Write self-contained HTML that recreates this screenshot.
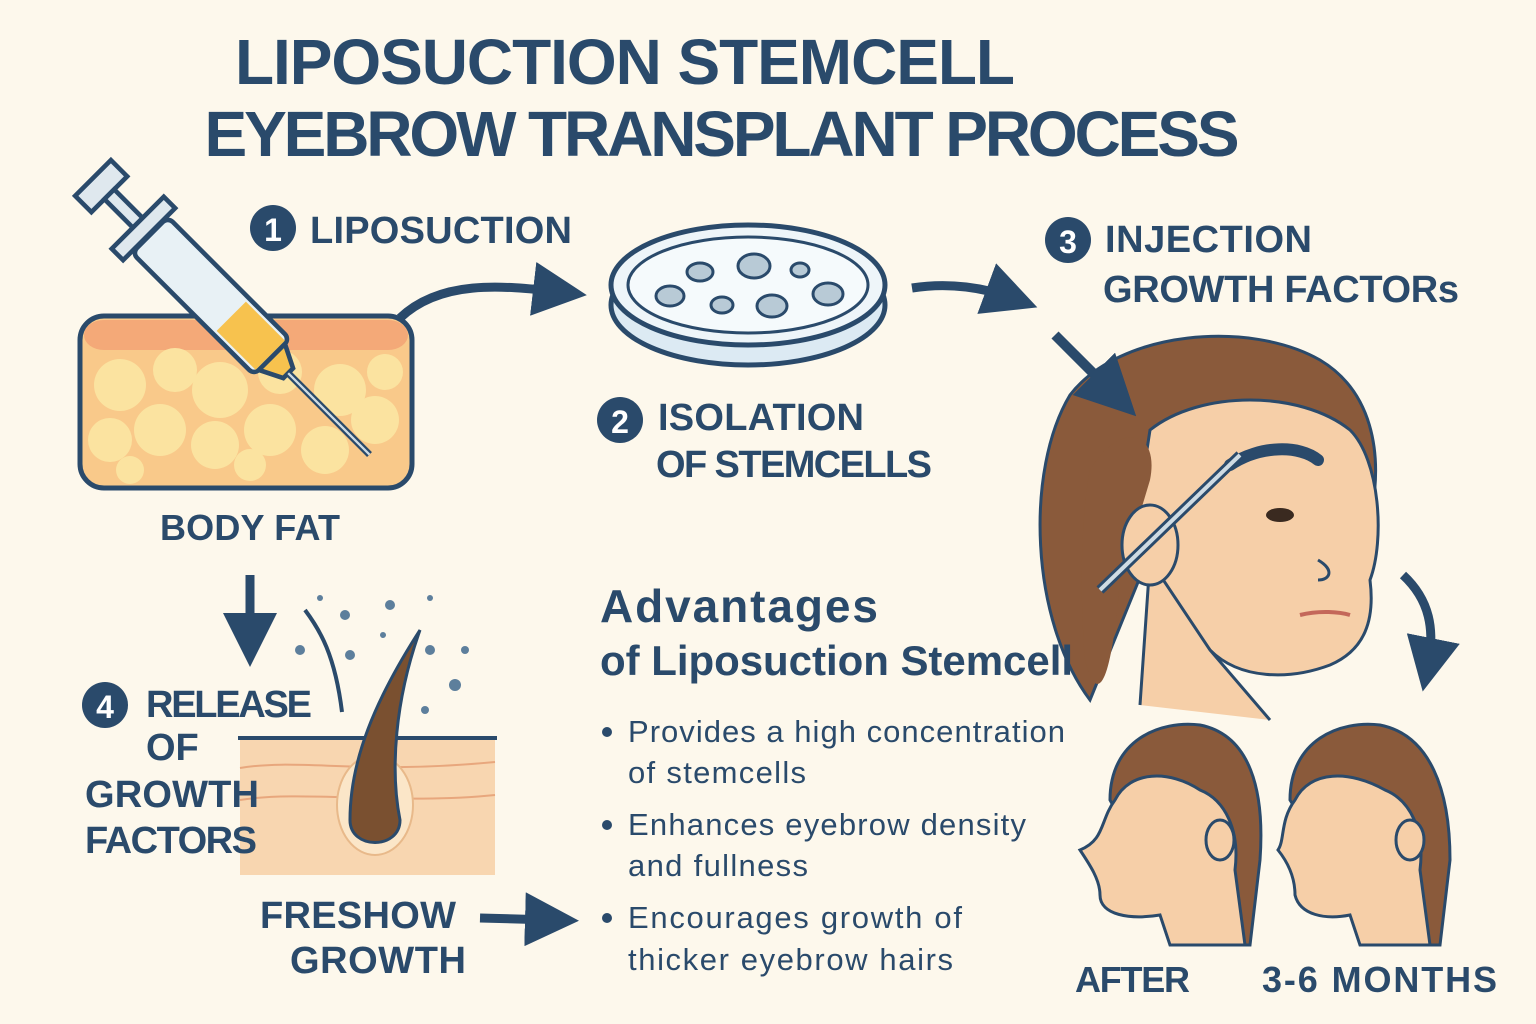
<!DOCTYPE html>
<html><head><meta charset="utf-8"><style>
body{margin:0;background:#fdf8ec}
svg{display:block}
text{font-family:"Liberation Sans",sans-serif;font-weight:bold;fill:#2a4a6b}
text.n{font-weight:normal}
</style></head><body>
<svg width="1536" height="1024" viewBox="0 0 1536 1024" xmlns="http://www.w3.org/2000/svg">
<rect width="1536" height="1024" fill="#fdf8ec"/>
<defs>
<marker id="ah" markerWidth="6" markerHeight="6" refX="3" refY="3" orient="auto" markerUnits="strokeWidth"><path d="M0,0 L6,3 L0,6 Z" fill="#2a4a6b"/></marker>
</defs>
<text x="625" y="84" font-size="64" text-anchor="middle" textLength="780">LIPOSUCTION STEMCELL</text>
<text x="722" y="156" font-size="64" text-anchor="middle" textLength="1035">EYEBROW TRANSPLANT PROCESS</text>

<rect x="80" y="316" width="332" height="172" rx="24" fill="#f9c98a" stroke="#2a4a6b" stroke-width="5"/>
<rect x="84" y="320" width="324" height="30" rx="20" fill="#f4a978"/>
<g fill="#fbe3a0">
<circle cx="120" cy="385" r="26"/><circle cx="175" cy="370" r="22"/><circle cx="220" cy="390" r="28"/><circle cx="280" cy="372" r="22"/><circle cx="340" cy="390" r="26"/><circle cx="385" cy="372" r="18"/>
<circle cx="110" cy="440" r="22"/><circle cx="160" cy="430" r="26"/><circle cx="215" cy="445" r="24"/><circle cx="270" cy="430" r="26"/><circle cx="325" cy="450" r="24"/><circle cx="375" cy="420" r="24"/><circle cx="130" cy="470" r="14"/><circle cx="250" cy="465" r="16"/>
</g>
<g transform="translate(215,300) rotate(45) scale(1.15)">
<rect x="-150" y="-22" width="20" height="44" fill="#dfe8ee" stroke="#2a4a6b" stroke-width="4"/>
<rect x="-130" y="-6" width="50" height="12" fill="#dfe8ee" stroke="#2a4a6b" stroke-width="4"/>
<rect x="-95" y="-32" width="14" height="64" fill="#dfe8ee" stroke="#2a4a6b" stroke-width="4"/>
<rect x="-80" y="-22" width="150" height="44" rx="6" fill="#e8f1f5" stroke="#2a4a6b" stroke-width="4"/>
<rect x="20" y="-18" width="48" height="36" fill="#f7c24e"/>
<path d="M70,-16 L90,-6 L90,6 L70,16Z" fill="#f7c24e" stroke="#2a4a6b" stroke-width="4"/>
<line x1="90" y1="0" x2="190" y2="0" stroke="#2a4a6b" stroke-width="6"/>
<line x1="90" y1="0" x2="190" y2="0" stroke="#cfdbe3" stroke-width="2"/>
</g>
<circle cx="273" cy="228" r="23" fill="#2a4a6b"/><text x="273" y="241" font-size="32" text-anchor="middle" style="fill:#fff">1</text>
<text x="310" y="243" font-size="38" textLength="262">LIPOSUCTION</text>
<text x="160" y="540" font-size="36" textLength="180">BODY FAT</text>

<path d="M400,318 C440,280 500,285 560,292" fill="none" stroke="#2a4a6b" stroke-width="9" marker-end="url(#ah)"/>
<ellipse cx="748" cy="305" rx="137" ry="60" fill="#dceaf3" stroke="#2a4a6b" stroke-width="5"/>
<ellipse cx="748" cy="285" rx="137" ry="60" fill="#eef5f9" stroke="#2a4a6b" stroke-width="5"/>
<ellipse cx="748" cy="285" rx="120" ry="48" fill="#f5fafc" stroke="#2a4a6b" stroke-width="3"/>
<g fill="#b8cad6" stroke="#2a4a6b" stroke-width="3">
<ellipse cx="700" cy="272" rx="13" ry="9"/><ellipse cx="754" cy="266" rx="16" ry="12"/><ellipse cx="800" cy="270" rx="9" ry="7"/><ellipse cx="670" cy="296" rx="14" ry="10"/><ellipse cx="722" cy="305" rx="11" ry="8"/><ellipse cx="772" cy="306" rx="15" ry="11"/><ellipse cx="828" cy="294" rx="15" ry="11"/>
</g>
<circle cx="620" cy="420" r="23" fill="#2a4a6b"/><text x="620" y="433" font-size="32" text-anchor="middle" style="fill:#fff">2</text>
<text x="658" y="430" font-size="38" textLength="206">ISOLATION</text>
<text x="656" y="477" font-size="38" textLength="276">OF STEMCELLS</text>
<path d="M912,288 C950,282 985,288 1012,298" fill="none" stroke="#2a4a6b" stroke-width="9" marker-end="url(#ah)"/>
<circle cx="1068" cy="240" r="23" fill="#2a4a6b"/><text x="1068" y="253" font-size="32" text-anchor="middle" style="fill:#fff">3</text>
<text x="1105" y="252" font-size="38" textLength="207">INJECTION</text>
<text x="1103" y="302" font-size="38" textLength="356">GROWTH FACTORs</text>

<!-- Big head -->
<path d="M1090,700 C1030,620 1025,470 1070,395 C1120,330 1250,320 1320,360 C1370,390 1385,450 1370,520 L1330,540 L1200,430 Z" fill="#8a5a3b" stroke="#2a4a6b" stroke-width="3"/>
<path d="M1150,430 C1200,390 1300,390 1350,430 C1380,460 1385,540 1370,580 C1375,620 1365,650 1330,665 C1290,680 1240,680 1210,650 L1170,600 L1130,560 Z" fill="#f6cfa8" stroke="#2a4a6b" stroke-width="3"/>
<path d="M1140,705 L1150,560 L1210,650 L1270,720" fill="#f6cfa8" stroke="#2a4a6b" stroke-width="3"/>
<path d="M1120,580 C1110,700 1095,700 1085,660 C1080,600 1080,520 1090,470 C1120,420 1160,430 1150,480 Z" fill="#8a5a3b"/>
<ellipse cx="1150" cy="545" rx="28" ry="40" fill="#f6cfa8" stroke="#2a4a6b" stroke-width="3"/>
<path d="M1230,465 C1260,445 1300,445 1318,460" fill="none" stroke="#2a4a6b" stroke-width="12" stroke-linecap="round"/>
<ellipse cx="1280" cy="515" rx="14" ry="7" fill="#3a2a20"/>
<path d="M1318,560 C1335,570 1330,580 1318,580" fill="none" stroke="#2a4a6b" stroke-width="3"/>
<path d="M1300,615 C1320,610 1340,612 1350,615" fill="none" stroke="#c4685a" stroke-width="4"/>
<line x1="1100" y1="590" x2="1240" y2="455" stroke="#2a4a6b" stroke-width="10"/>
<line x1="1100" y1="590" x2="1240" y2="455" stroke="#cfdbe3" stroke-width="4"/>
<line x1="1055" y1="335" x2="1115" y2="395" stroke="#2a4a6b" stroke-width="10" marker-end="url(#ah)"/>
<path d="M1403,575 C1430,600 1435,630 1428,665" fill="none" stroke="#2a4a6b" stroke-width="9" marker-end="url(#ah)"/>

<g>
<path d="M1110,800 C1110,740 1160,720 1200,725 C1250,735 1265,790 1260,860 L1250,945 L1190,945 Z" fill="#8a5a3b" stroke="#2a4a6b" stroke-width="3"/>
<path d="M1115,800 C1100,820 1105,840 1080,850 C1090,865 1100,880 1100,895 C1100,915 1130,920 1160,915 L1170,945 L1245,945 L1235,870 C1240,830 1225,800 1200,790 C1170,770 1130,770 1115,800 Z" fill="#f6cfa8" stroke="#2a4a6b" stroke-width="3"/>
<ellipse cx="1220" cy="840" rx="14" ry="20" fill="#f6cfa8" stroke="#2a4a6b" stroke-width="3"/>
<path d="M1290,800 C1290,740 1340,720 1380,725 C1430,735 1450,790 1450,860 L1440,945 L1380,945 Z" fill="#8a5a3b" stroke="#2a4a6b" stroke-width="3"/>
<path d="M1295,800 C1280,820 1285,840 1278,850 C1290,865 1295,880 1295,895 C1300,915 1325,920 1350,915 L1360,945 L1430,945 L1420,870 C1425,830 1410,800 1385,790 C1350,770 1310,770 1295,800 Z" fill="#f6cfa8" stroke="#2a4a6b" stroke-width="3"/>
<ellipse cx="1410" cy="840" rx="14" ry="20" fill="#f6cfa8" stroke="#2a4a6b" stroke-width="3"/>
</g>
<text x="1075" y="992" font-size="36" textLength="115">AFTER</text>
<text x="1262" y="992" font-size="36" textLength="235">3-6 MONTHS</text>

<line x1="250" y1="575" x2="250" y2="640" stroke="#2a4a6b" stroke-width="9" marker-end="url(#ah)"/>
<rect x="240" y="738" width="255" height="137" fill="#f8d6b0"/>
<line x1="238" y1="738" x2="497" y2="738" stroke="#2a4a6b" stroke-width="4"/>
<path d="M240,768 C300,758 360,775 495,762 M240,800 C300,790 400,805 495,795" fill="none" stroke="#e8a77d" stroke-width="2"/>
<ellipse cx="375" cy="805" rx="38" ry="50" fill="#fbe6c8" stroke="#e8b98a" stroke-width="2"/>
<path d="M350,820 C350,760 375,700 420,630 C395,700 390,770 400,820 C400,850 350,850 350,820Z" fill="#7a5030" stroke="#2a4a6b" stroke-width="3"/>
<path d="M305,610 C320,630 335,655 342,712" fill="none" stroke="#2a4a6b" stroke-width="4"/>
<g fill="#5d7f9c"><circle cx="300" cy="650" r="5"/><circle cx="345" cy="615" r="5"/><circle cx="390" cy="605" r="5"/><circle cx="350" cy="655" r="5"/><circle cx="455" cy="685" r="6"/><circle cx="430" cy="650" r="5"/><circle cx="425" cy="710" r="4"/><circle cx="465" cy="650" r="4"/><circle cx="383" cy="635" r="3"/><circle cx="320" cy="598" r="3"/><circle cx="430" cy="598" r="3"/></g>
<circle cx="105" cy="705" r="23" fill="#2a4a6b"/><text x="105" y="718" font-size="32" text-anchor="middle" style="fill:#fff">4</text>
<text x="146" y="717" font-size="38" textLength="166">RELEASE</text>
<text x="146" y="760" font-size="38">OF</text>
<text x="85" y="807" font-size="38" textLength="174">GROWTH</text>
<text x="85" y="853" font-size="38" textLength="172">FACTORS</text>
<text x="260" y="928" font-size="38" textLength="196">FRESHOW</text>
<text x="290" y="973" font-size="38" textLength="176">GROWTH</text>
<line x1="480" y1="918" x2="552" y2="920" stroke="#2a4a6b" stroke-width="9" marker-end="url(#ah)"/>

<text x="600" y="622" font-size="46" textLength="278">Advantages</text>
<text x="600" y="675" font-size="42" textLength="473">of Liposuction Stemcell</text>
<circle cx="607" cy="732" r="5" fill="#2a4a6b"/>
<text class="n" x="628" y="742" font-size="31" textLength="437">Provides a high concentration</text>
<text class="n" x="628" y="783" font-size="31" textLength="178">of stemcells</text>
<circle cx="607" cy="825" r="5" fill="#2a4a6b"/>
<text class="n" x="628" y="835" font-size="31" textLength="398">Enhances eyebrow density</text>
<text class="n" x="628" y="876" font-size="31" textLength="180">and fullness</text>
<circle cx="607" cy="918" r="5" fill="#2a4a6b"/>
<text class="n" x="628" y="928" font-size="31" textLength="334">Encourages growth of</text>
<text class="n" x="628" y="970" font-size="31" textLength="325">thicker eyebrow hairs</text>
</svg>
</body></html>
